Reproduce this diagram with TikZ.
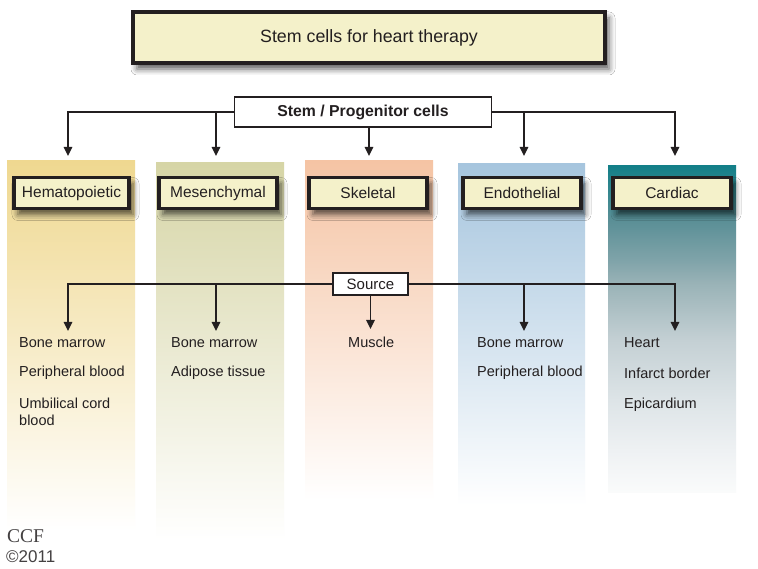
\documentclass[tikz,border=0pt]{standalone}
\usepackage{fontspec}
\setmainfont{Liberation Sans}
\newfontfamily\ccfserif{Liberation Serif}
\usetikzlibrary{arrows.meta,shadows.blur}
\definecolor{txt}{HTML}{231F20}
\definecolor{cream}{HTML}{F4F1CA}
\definecolor{hemc}{HTML}{EFD890}
\definecolor{mesc}{HTML}{D6D5A6}
\definecolor{skec}{HTML}{F5C4A4}
\definecolor{endc}{HTML}{A6C5DE}
\definecolor{cA}{HTML}{137F88}
\definecolor{cB}{HTML}{5A8F96}
\definecolor{cC}{HTML}{7FA3A9}
\definecolor{cD}{HTML}{9AB3B7}
\definecolor{cE}{HTML}{C4D0D4}
\definecolor{cF}{HTML}{DDE4E7}
\definecolor{cG}{HTML}{EEF1F3}
\definecolor{cH}{HTML}{FAFBFB}
\pgfdeclareverticalshading{cardshade}{100bp}{color(0bp)=(cH); color(25bp)=(cH); color(31.4bp)=(cG); color(39.1bp)=(cF); color(48.3bp)=(cE); color(56.9bp)=(cD); color(60.6bp)=(cC); color(66.7bp)=(cB); color(75bp)=(cA); color(100bp)=(cA)}
\tikzset{
  heavybox/.style={draw=txt, line width=3.5pt, fill=cream, text=txt, inner sep=0pt,
    blur shadow={shadow xshift=4pt, shadow yshift=-6pt, shadow blur radius=6pt, shadow opacity=65}},
  catbox/.style={heavybox, minimum height=31pt, font=\fontsize{15.5}{18}\selectfont},
  lightbox/.style={draw=txt, line width=1.5pt, fill=white, text=txt, inner sep=0pt},
  arr/.style={draw=txt, line width=1.5pt, -{Triangle[length=9pt,width=8.5pt]}},
  item/.style={anchor=base west, text=txt, inner sep=0pt, font=\fontsize{14.5}{17}\selectfont},
  col/.style={draw=none}
}
\begin{document}
\begin{tikzpicture}[x=1pt,y=-1pt]
\useasboundingbox (0,0) rectangle (758,569);
\fill[white] (0,0) rectangle (758,569);
% columns
\shade[col, top color=hemc, middle color=hemc!55!white, bottom color=white] (7,161) rectangle (135,530);
\shade[col, top color=mesc, middle color=mesc!55!white, bottom color=white] (156,163) rectangle (284,540);
\shade[col, top color=skec, middle color=skec!50!white, bottom color=white] (305,161) rectangle (433,500);
\shade[col, top color=endc, middle color=endc!50!white, bottom color=white] (458,164) rectangle (585,505);
\shade[col, shading=cardshade] (608,166) rectangle (736,492);
% title
\node[heavybox, minimum width=472pt, minimum height=51pt, font=\fontsize{17.8}{21}\selectfont] (title) at (369,37.5) {Stem cells for heart therapy};
% stem / progenitor
\node[lightbox, minimum width=257pt, minimum height=30pt, font=\bfseries\fontsize{15.8}{18}\selectfont] (stem) at (363,112) {Stem / Progenitor cells};
% category boxes
\node[catbox, minimum width=115pt] (hem) at (71.5,193) {Hematopoietic};
\node[catbox, minimum width=118pt] (mes) at (218,193) {Mesenchymal};
\node[catbox, minimum width=118pt] (ske) at (368,193) {Skeletal};
\node[catbox, minimum width=118pt] (end) at (522,193) {Endothelial};
\node[catbox, minimum width=118pt] (car) at (672,193) {Cardiac};
% top arrows
\coordinate (t1) at (68,156);
\coordinate (t2) at (216,156);
\coordinate (t3) at (369,156);
\coordinate (t4) at (524,156);
\coordinate (t5) at (675,156);
\coordinate (b2) at (216,112);
\coordinate (b4) at (524,112);
\draw[arr] (stem.west) -| (t1);
\draw[arr] (stem.east) -| (t5);
\draw[arr] (b2) -- (t2);
\draw[arr] (b4) -- (t4);
\draw[arr] (stem.south -| t3) -- (t3);
% source
\node[lightbox, minimum width=75pt, minimum height=22pt, font=\fontsize{15}{18}\selectfont] (src) at (370.5,284) {Source};
\coordinate (u1) at (68,331);
\coordinate (u2) at (216,331);
\coordinate (u3) at (370.5,329);
\coordinate (u4) at (524,331);
\coordinate (u5) at (675,331);
\coordinate (c2) at (216,284);
\coordinate (c4) at (524,284);
\draw[arr] (src.west) -| (u1);
\draw[arr] (src.east) -| (u5);
\draw[arr] (c2) -- (u2);
\draw[arr] (c4) -- (u4);
\draw[arr] (src.south) -- (u3);
% lists
\node[item] (h1) at (19,348) {Bone marrow};
\node[item] (h2) at (19,377) {Peripheral blood};
\node[item] (h3) at (19,408) {Umbilical cord};
\node[item] (h4) at (19,425) {blood};
\node[item] (m1) at (171,348) {Bone marrow};
\node[item] (m2) at (171,377) {Adipose tissue};
\node[item] (s1) at (348,348) {Muscle};
\node[item] (e1) at (477,348) {Bone marrow};
\node[item] (e2) at (477,377) {Peripheral blood};
\node[item] (k1) at (624,348) {Heart};
\node[item] (k2) at (624,378) {Infarct border};
\node[item] (k3) at (624,408) {Epicardium};
% copyright
\node[anchor=base west, inner sep=0pt, text=txt!85!white, font=\ccfserif\fontsize{19.5}{22}\selectfont] (ccf) at (7,542) {CCF};
\node[anchor=base west, inner sep=0pt, text=txt!85!white, font=\fontsize{17}{20}\selectfont] (cpy) at (6,562) {©2011};
\end{tikzpicture}
\end{document}
